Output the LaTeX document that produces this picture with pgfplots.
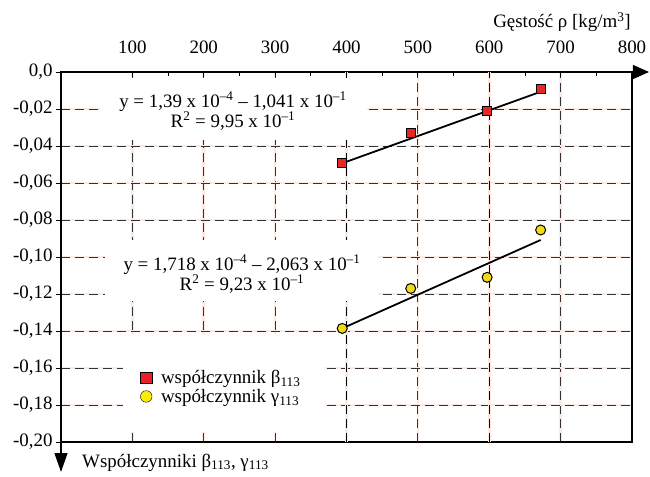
\documentclass[border=0pt]{standalone}
\usepackage{pgfplots}
\pgfplotsset{compat=1.18}
\usepackage{fontspec}
\setmainfont{Liberation Serif}
\usetikzlibrary{arrows.meta}
\definecolor{halo}{RGB}{252,234,226}
\definecolor{redm}{RGB}{228,40,40}
\definecolor{yelm}{RGB}{242,218,20}
\definecolor{redl}{RGB}{236,30,40}
\definecolor{yell}{RGB}{255,236,0}
\newcommand{\fs}{\fontsize{19}{20}\selectfont}
\begin{document}
\begin{tikzpicture}[font=\fs]
\useasboundingbox (-61bp,-35bp) rectangle (589bp,442bp);
\begin{axis}[
  name=ax,
  at={(0,0)}, anchor=south west,
  scale only axis, width=571bp, height=370bp,
  xmin=0, xmax=800, ymin=-0.2, ymax=0,
  xtick={100,200,300,400,500,600,700,800},
  xticklabels={100,200,300,400,500,600,700,800},
  minor x tick num=1,
  xtick pos=upper, xticklabel pos=upper,
  ytick pos=lower,
  xtick align=inside, ytick align=outside,
  major tick length=5bp, minor tick length=4bp,
  ytick={-0.20,-0.18,-0.16,-0.14,-0.12,-0.10,-0.08,-0.06,-0.04,-0.02,0},
  yticklabels={{-0,20},{-0,18},{-0,16},{-0,14},{-0,12},{-0,10},{-0,08},{-0,06},{-0,04},{-0,02},{0,0}},
  xticklabel style={font=\fs, yshift=15bp},
  yticklabel style={font=\fs},
  axis line style={line width=1.2bp, black},
  tick style={line width=0.8bp, black},
  grid=major,
  major grid style={draw=black!80, line width=0.9bp, dash pattern=on 9bp off 5bp, preaction={draw=halo, line width=2.6bp, solid}},
  extra x ticks={400,600},
  extra x tick labels={},
  extra x tick style={grid=major, major grid style={draw=black, line width=1.2bp}},
  legend style={at={(axis cs:111,-0.1703)}, anchor=west, draw=none, fill=none, font=\fs, inner sep=0pt, row sep=0bp, column sep=7bp},
  legend cell align=left,
]
\addplot[black, line width=1.8bp, forget plot] coordinates {(394,-0.04934) (672,-0.01069)};
\addplot[black, line width=1.8bp, forget plot] coordinates {(394,-0.1386) (672,-0.0908)};
\addplot[only marks, mark=square*, mark size=4.5bp, mark options={fill=redm, draw=black, line width=1bp}, forget plot] coordinates {(394,-0.0490) (490,-0.0328) (597,-0.0209) (672,-0.0092)};
\addplot[only marks, mark=*, mark size=5bp, mark options={fill=yelm, draw=black, line width=1bp}, forget plot] coordinates {(394,-0.1386) (490,-0.1170) (597,-0.1110) (672,-0.0854)};
\fill[white] (axis cs:54.6,-0.0032) rectangle (axis cs:428.7,-0.0368);
\fill[white] (axis cs:61.6,-0.0908) rectangle (axis cs:444.1,-0.1238);
\fill[white] (axis cs:86.9,-0.1416) rectangle (axis cs:369.9,-0.1946);
\node[align=center, font=\fs, inner sep=0pt] at (axis cs:241,-0.0211) {y = 1,39 x 10\textsuperscript{–4} – 1,041 x 10\textsuperscript{–1}\\R\textsuperscript{2} = 9,95 x 10\textsuperscript{–1}};
\node[align=center, font=\fs, inner sep=0pt] at (axis cs:253.6,-0.1092) {y = 1,718 x 10\textsuperscript{–4} – 2,063 x 10\textsuperscript{–1}\\R\textsuperscript{2} = 9,23 x 10\textsuperscript{–1}};
\addlegendimage{only marks, mark=square*, mark size=5.8bp, mark options={fill=redl, draw=none}}
\addlegendentry{współczynnik β\textsubscript{113}}
\addlegendimage{only marks, mark=*, mark size=5.8bp, mark options={fill=yell, draw=none}}
\addlegendentry{współczynnik γ\textsubscript{113}}
\end{axis}
\draw[line width=1.2bp, -{Triangle[length=16bp,width=14bp]}] (ax.north east) -- ++(17bp,0);
\draw[line width=1.2bp, -{Triangle[length=19bp,width=13bp]}] (ax.south west) -- ++(0,-30bp);
\node[anchor=base east, inner sep=0pt] at ([xshift=-1bp,yshift=44bp]ax.north east) {Gęstość ρ [kg/m\textsuperscript{3}]};
\node[anchor=base west, inner sep=0pt] at ([xshift=21bp,yshift=-25bp]ax.south west) {Współczynniki β\textsubscript{113}, γ\textsubscript{113}};
\end{tikzpicture}
\end{document}
